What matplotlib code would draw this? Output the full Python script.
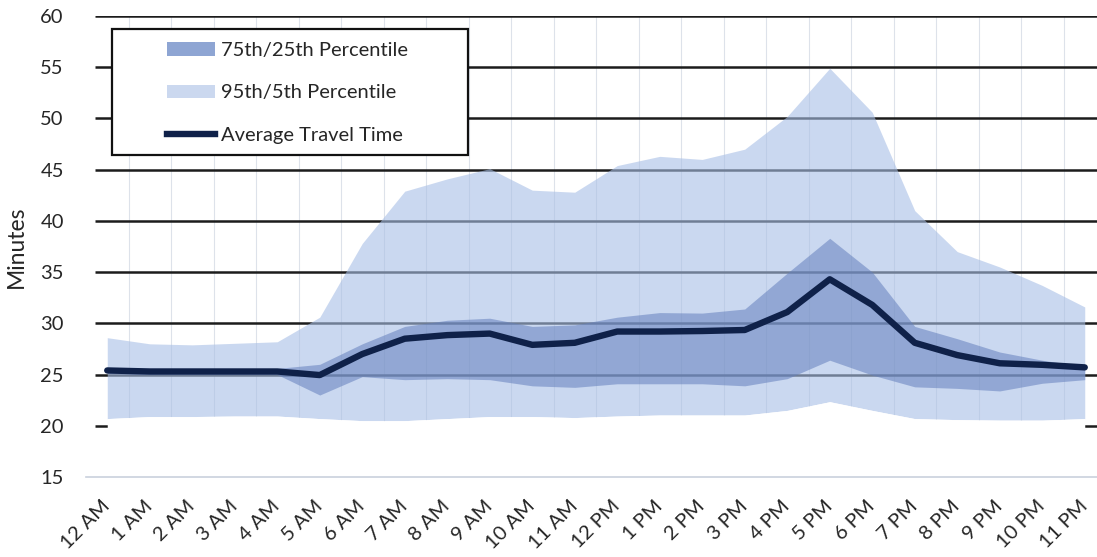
import matplotlib
matplotlib.use('Agg')
import matplotlib.pyplot as plt
from matplotlib.patches import Patch, Rectangle
from matplotlib.lines import Line2D

plt.rcParams['font.family'] = ['Lato', 'DejaVu Sans']

hours = ['12 AM', '1 AM', '2 AM', '3 AM', '4 AM', '5 AM', '6 AM', '7 AM', '8 AM', '9 AM',
         '10 AM', '11 AM', '12 PM', '1 PM', '2 PM', '3 PM', '4 PM', '5 PM', '6 PM', '7 PM',
         '8 PM', '9 PM', '10 PM', '11 PM']
p95 = [28.6, 28.0, 27.9, 28.05, 28.2, 30.6, 37.8, 42.9, 44.1, 45.1, 43.0, 42.8,
       45.4, 46.3, 46.0, 47.0, 50.2, 54.9, 50.6, 41.0, 37.0, 35.5, 33.7, 31.6]
p5 = [20.7, 20.9, 20.9, 20.95, 20.95, 20.7, 20.5, 20.5, 20.7, 20.9, 20.9, 20.8,
      20.95, 21.05, 21.05, 21.05, 21.5, 22.35, 21.5, 20.7, 20.6, 20.55, 20.55, 20.7]
p75 = [25.7, 25.6, 25.6, 25.6, 25.6, 26.0, 28.0, 29.7, 30.3, 30.5, 29.7, 29.85,
       30.6, 31.05, 31.0, 31.4, 34.9, 38.3, 35.0, 29.7, 28.5, 27.2, 26.4, 25.8]
p25 = [25.1, 25.0, 25.0, 25.0, 25.0, 23.0, 24.8, 24.5, 24.6, 24.5, 23.9, 23.75,
       24.1, 24.1, 24.1, 23.9, 24.6, 26.4, 24.95, 23.8, 23.65, 23.4, 24.15, 24.5]
avg = [25.4, 25.3, 25.3, 25.3, 25.3, 24.95, 27.0, 28.5, 28.85, 29.0, 27.9, 28.1,
       29.2, 29.2, 29.25, 29.35, 31.1, 34.3, 31.8, 28.1, 26.9, 26.1, 25.95, 25.7]

x = list(range(len(hours)))
text_col = '#262626'
fs = 14.5

fig = plt.figure(figsize=(10.97, 5.57), dpi=100)
ax = fig.add_axes([86 / 1097, 80 / 557, 1020 / 1097, 461 / 557])
ax.set_xlim(-0.5, 23.5)
ax.set_ylim(15, 60)

# gridlines (behind the translucent bands)
for y in range(20, 61, 5):
    ax.hlines(y, -0.3, 23.5, color='#1c1c1c', lw=1.8, zorder=1)
for i in range(23):
    ax.vlines(i + 0.5, 20, 60, color='#dde2ea', lw=0.8, zorder=0.9)

ax.fill_between(x, p5, p95, color='#a8bfe6', alpha=0.6, lw=0, zorder=2)
ax.fill_between(x, p25, p75, color='#6580bd', alpha=0.55, lw=0, zorder=2.1)
# white area under the 5th percentile hides the gridlines
ax.fill_between(x, 15, p5, color='white', lw=0, zorder=2.2)
ax.plot(x, avg, color='#0f2149', lw=4.6, solid_capstyle='round',
        solid_joinstyle='round', zorder=4)

for s in ['left', 'right', 'top']:
    ax.spines[s].set_visible(False)
ax.spines['bottom'].set_color('#c9d1dd')
ax.spines['bottom'].set_linewidth(1.2)

ax.set_yticks(range(15, 61, 5))
ax.tick_params(axis='y', length=0, pad=16, labelsize=fs, labelcolor=text_col)
ax.set_xticks(x)
ax.set_xticklabels(hours, rotation=45, ha='right', va='center', rotation_mode='anchor')
ax.tick_params(axis='x', length=0, pad=19, labelsize=fs, labelcolor=text_col)

ax.set_ylabel('Minutes', fontsize=16.5, color=text_col)
ax.yaxis.set_label_coords(-0.058, 0.5)

# legend box
ax.add_patch(Rectangle((0.0255, 0.6985), 0.349, 0.2733, transform=ax.transAxes,
                       facecolor='white', edgecolor='#111111', lw=1.6, zorder=5,
                       clip_on=False))
handles = [Patch(facecolor='#8ea5d3', edgecolor='none'),
           Patch(facecolor='#cbd8ef', edgecolor='none'),
           Line2D([0], [0], color='#0f2149', lw=4.6)]
labels = ['75th/25th Percentile', '95th/5th Percentile', 'Average Travel Time']
leg = ax.legend(handles, labels, loc='upper left', bbox_to_anchor=(0.0794, 0.943),
                frameon=False, borderpad=0, borderaxespad=0, handlelength=2.4,
                handleheight=0.65, handletextpad=0.3, labelspacing=1.25,
                fontsize=fs, labelcolor=text_col)
leg.set_zorder(6)

fig.savefig('out.png', dpi=100, facecolor='white')
